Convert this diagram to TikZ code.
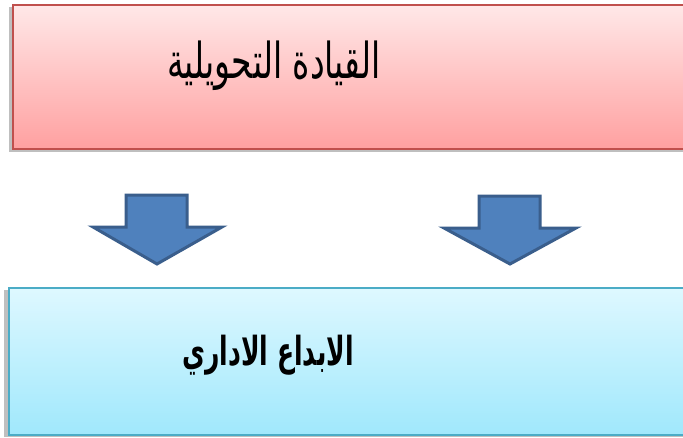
\documentclass[tikz,border=0pt]{standalone}
\usepackage{fontspec}
\TeXXeTstate=1
\newfontfamily\arabicfont[Script=Arabic]{DejaVu Sans}
\definecolor{redline}{RGB}{192,80,77}
\definecolor{redtop}{RGB}{255,232,232}
\definecolor{redbot}{RGB}{255,160,160}
\definecolor{blueline}{RGB}{75,172,198}
\definecolor{bluetop}{RGB}{222,248,255}
\definecolor{bluebot}{RGB}{160,232,252}
\definecolor{arrowfill}{RGB}{79,129,189}
\definecolor{arrowline}{RGB}{58,94,140}
\tikzset{
  topbox/.style={draw=redline, line width=2pt, top color=redtop, bottom color=redbot, rectangle, inner sep=0pt},
  botbox/.style={draw=blueline, line width=2pt, top color=bluetop, bottom color=bluebot, rectangle, inner sep=0pt},
  boxshadow/.style={fill=black!25},
  blockarrow/.style={fill=arrowfill, draw=arrowline, line width=3pt, line join=miter},
  toptext/.style={font=\arabicfont\fontsize{33}{40}\selectfont, inner sep=0pt},
  bottext/.style={font=\arabicfont\bfseries\fontsize{25}{32}\selectfont, inner sep=0pt}
}
\begin{document}
\begin{tikzpicture}[x=1pt,y=-1pt]
\useasboundingbox (0,0) rectangle (683,437);
\clip (0,0) rectangle (683,437);
\fill[white] (0,0) rectangle (683,437);
% shadows
\fill[boxshadow] (9,7) rectangle (700,152);
\fill[boxshadow] (4,290) rectangle (700,437);
% boxes
\node[topbox, minimum width=700pt, minimum height=144pt, anchor=north west] (lead) at (12,4) {};
\node[botbox, minimum width=700pt, minimum height=147pt, anchor=north west] (creat) at (8,287) {};
% texts
\node[toptext] (leadtext) at (274,66) {\scalebox{1}[1.5]{\beginR القيادة التحويلية\endR}};
\node[bottext] (creattext) at (268,355) {\scalebox{1}[1.6]{\beginR الابداع الاداري\endR}};
% arrows
\draw[blockarrow] (126,195) -- (187,195) -- (187,227) -- (222,227) -- (157,264) -- (93,227) -- (126,227) -- cycle;
\draw[blockarrow] (479,196) -- (540,196) -- (540,228) -- (576,228) -- (510,264) -- (444,228) -- (479,228) -- cycle;
\end{tikzpicture}
\end{document}
